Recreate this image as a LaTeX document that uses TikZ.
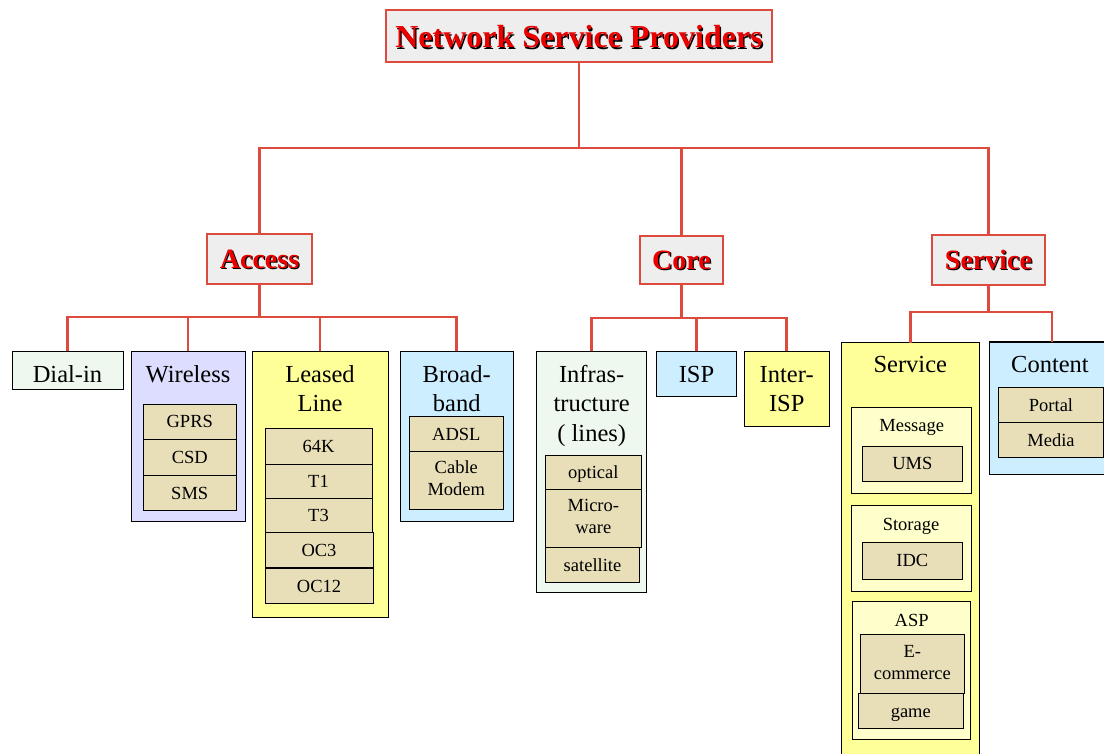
\documentclass[tikz,border=0pt]{standalone}
\usepackage{fontspec}
\setmainfont{Liberation Serif}
\usetikzlibrary{calc}
\definecolor{conn}{RGB}{221,75,62}
\definecolor{topgray}{HTML}{EEEEEE}
\definecolor{greenl}{HTML}{EEF8EE}
\definecolor{lav}{HTML}{DDDDFF}
\definecolor{yel}{HTML}{FFFF99}
\definecolor{blu}{HTML}{CCEEFF}
\definecolor{tan}{HTML}{E8DFB9}
\definecolor{lyel}{HTML}{FFFFCC}
\definecolor{tred}{RGB}{235,0,0}
\newcommand\fT{\fontsize{24.5}{29.5}\selectfont}
\newcommand\fS{\fontsize{18.5}{22}\selectfont}
\newcommand\shdw[1]{\makebox[0pt][l]{\hspace*{1.3pt}\raisebox{-1.3pt}{\textcolor{black}{#1}}}#1}
\newcommand\mlt[1]{\begin{tabular}[t]{@{}c@{}}#1\end{tabular}}
\newcommand\mlc[1]{\begin{tabular}{@{}c@{}}#1\end{tabular}}
\newcommand\bx[7][]{\node[#1,minimum width={(#5)-(#3)},minimum height={(#6)-(#4)},anchor=north west] (#2) at (#3,#4) {#7};}
\begin{document}
\begin{tikzpicture}[x=1pt,y=-1pt,
  boxbase/.style={rectangle,inner sep=0pt,outer sep=0pt},
  hdbox/.style={boxbase,draw=conn,line width=2.2pt,fill=topgray,text=tred,text depth=0pt},
  leafbox/.style={boxbase,draw=black,line width=1pt},
  subbox/.style={boxbase,draw=black,line width=1pt,fill=tan,font=\fS,text height=12.5pt,text depth=0pt},
  subboxm/.style={boxbase,draw=black,line width=1pt,fill=tan,font=\fS},
  ttl/.style={inner sep=0pt,outer sep=0pt,anchor=base,font=\fT},
  ittl/.style={inner sep=0pt,outer sep=0pt,anchor=base,font=\fS},
  wire/.style={draw=conn,line width=2.6pt}]
\useasboundingbox (0,0) rectangle (1104,754);
\clip (0,0) rectangle (1104,754);
% top levels
\bx[hdbox,font=\bfseries\fontsize{32}{36}\selectfont,text height=24pt]{nsp}{386}{10}{772}{62}{\shdw{Network Service Providers}}
\bx[hdbox,font=\bfseries\fontsize{28}{32}\selectfont,text height=19pt]{access}{207}{234}{312}{284}{\shdw{Access}}
\bx[hdbox,font=\bfseries\fontsize{28}{32}\selectfont,text height=19pt]{core}{640}{236}{723}{284}{\shdw{Core}}
\bx[hdbox,font=\bfseries\fontsize{28}{32}\selectfont,text height=19pt]{service}{932}{235}{1045}{285}{\shdw{Service}}
% Access leaves
\bx[leafbox,fill=greenl]{dialin}{12}{351}{123}{389}{}
\node[ttl] (dialinT) at (67.5,382) {Dial-in};
\bx[leafbox,fill=lav]{wireless}{131}{351}{245}{521.5}{}
\node[ttl] (wirelessT) at (188,382) {Wireless};
\bx[subbox]{gprs}{143}{404}{236.5}{439}{GPRS}
\bx[subbox]{csd}{143}{439}{236.5}{475}{CSD}
\bx[subbox]{sms}{143}{475}{236.5}{510.5}{SMS}
\bx[leafbox,fill=yel]{leased}{252}{351}{388}{617}{}
\node[ttl] (leasedT) at (320,382) {\mlt{Leased\\Line}};
\bx[subbox]{k64}{265}{428}{372}{464}{64K}
\bx[subbox]{t1}{265}{464}{372}{498.5}{T1}
\bx[subbox]{t3}{265}{498.5}{372}{532.3}{T3}
\bx[subbox]{oc3}{265}{532.3}{373}{567.5}{OC3}
\bx[subbox]{oc12}{265}{568.7}{373}{603.3}{OC12}
\bx[leafbox,fill=blu]{broad}{400}{351}{513.3}{521.7}{}
\node[ttl] (broadT) at (456.7,382) {\mlt{Broad-\\band}};
\bx[subbox]{adsl}{409.3}{416}{503.3}{451.7}{ADSL}
\bx[subboxm]{cable}{409.3}{451.7}{503.3}{509.3}{\mlc{Cable\\Modem}}
% Core leaves
\bx[leafbox,fill=greenl]{infra}{536.7}{351}{646.7}{592.7}{}
\node[ttl] (infraT) at (591.7,382) {\mlt{Infras-\\tructure\\( lines)}};
\bx[subbox]{optical}{545.7}{455.7}{641}{489.7}{optical}
\bx[subboxm]{micro}{545.7}{489.7}{641}{547.3}{\mlc{Micro-\\ware}}
\bx[subbox]{sat}{545.7}{547.3}{639.3}{582.3}{satellite}
\bx[leafbox,fill=blu]{isp}{656.7}{351}{736.3}{396.7}{}
\node[ttl] (ispT) at (696.5,382) {ISP};
\bx[leafbox,fill=yel]{inter}{744.3}{351}{829}{426}{}
\node[ttl] (interT) at (786.7,382) {\mlt{Inter-\\ISP}};
% Service leaves
\bx[leafbox,fill=yel]{svc}{841}{342.7}{979.7}{760}{}
\node[ttl] (svcT) at (910.3,372.5) {Service};
\bx[leafbox,fill=lyel]{msg}{851.7}{407.3}{971.7}{493.3}{}
\node[ittl] (msgT) at (911.7,431.5) {Message};
\bx[subbox]{ums}{862.3}{446}{962.3}{481}{UMS}
\bx[leafbox,fill=lyel]{stor}{851.7}{505}{971.7}{591}{}
\node[ittl] (storT) at (911,530) {Storage};
\bx[subbox]{idc}{862.3}{542.3}{962.3}{579}{IDC}
\bx[leafbox,fill=lyel]{aspb}{852.7}{601.7}{970.7}{739.3}{}
\node[ittl] (aspT) at (911.7,626) {ASP};
\bx[subboxm]{ecom}{860}{634.3}{964.7}{693.3}{\mlc{E-\\commerce}}
\bx[subbox]{game}{858.3}{693.3}{963.3}{728.3}{game}
\bx[leafbox,fill=blu]{content}{989.3}{342}{1115}{474.3}{}
\node[ttl] (contentT) at (1050,372) {Content};
\bx[subbox]{portal}{998.3}{387.3}{1103.7}{422.7}{Portal}
\bx[subbox]{media}{998.3}{422.7}{1103.7}{457.7}{Media}
% connectors
\coordinate (b0) at (579,148);
\draw[wire] (nsp.south) -- (b0);
\draw[wire] (access.north) |- (b0) -| (service.north);
\draw[wire] (b0) -| (core.north);
\coordinate (b1) at (access.south |- 0,317);
\draw[wire] (access.south) -- (b1);
\draw[wire] (dialin.north) |- (b1) -| (broad.north);
\draw[wire] (wireless.north) -- (wireless.north |- b1);
\draw[wire] (leased.north) -- (leased.north |- b1);
\coordinate (b2) at (core.south |- 0,318);
\draw[wire] (core.south) -- (b2);
\draw[wire] (infra.north) |- (b2) -| (inter.north);
\draw[wire] (isp.north) -- (isp.north |- b2);
\coordinate (b3) at (service.south |- 0,312);
\draw[wire] (service.south) -- (b3);
\draw[wire] (svc.north) |- (b3) -| (content.north);
\end{tikzpicture}
\end{document}
